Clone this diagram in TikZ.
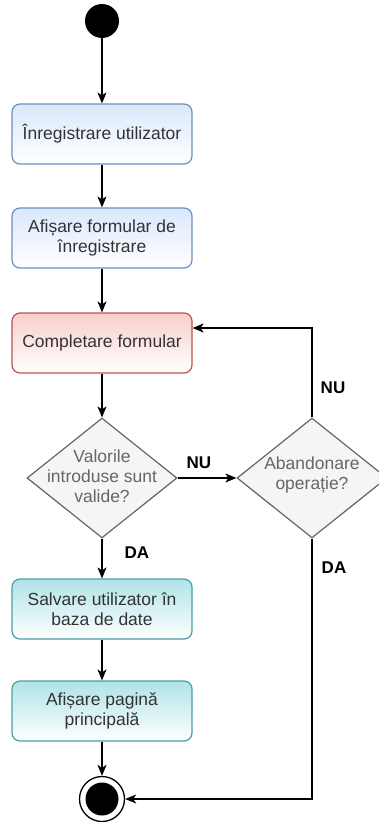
\documentclass[tikz,border=0pt]{standalone}
\usepackage{fontspec}
\setmainfont{Liberation Sans}
\usetikzlibrary{shapes.geometric,arrows.meta,calc}
\definecolor{blueFill}{HTML}{DAE8FC}
\definecolor{blueLine}{HTML}{6C8EBF}
\definecolor{redFill}{HTML}{F8CECC}
\definecolor{redLine}{HTML}{B85450}
\definecolor{tealFill}{HTML}{B0E3E6}
\definecolor{tealLine}{HTML}{4A9FA5}
\definecolor{grayFill}{HTML}{F5F5F5}
\definecolor{grayLine}{HTML}{666666}
\definecolor{boxText}{HTML}{333333}
\definecolor{decText}{HTML}{666666}
\tikzset{
  action/.style={rounded corners=8pt, minimum width=180pt, minimum height=60pt,
    line width=1.2pt, align=center, text=boxText, inner sep=2pt,
    font=\fontsize{17.5}{20}\selectfont},
  bluebox/.style={action, draw=blueLine, top color=blueFill, bottom color=white},
  redbox/.style={action, draw=redLine, top color=redFill, bottom color=white},
  tealbox/.style={action, draw=tealLine, top color=tealFill, bottom color=white},
  decision/.style={diamond, draw=grayLine, fill=grayFill, line width=1.2pt,
    minimum width=150pt, minimum height=120pt, inner sep=0pt},
  dtext/.style={align=center, text=decText, font=\fontsize{17.5}{20}\selectfont},
  flow/.style={line width=1.3pt, -{Stealth[length=11pt,width=9pt,inset=3pt]}},
  tag/.style={font=\bfseries\fontsize{17}{20}\selectfont, text=black},
}
\begin{document}
\begin{tikzpicture}[x=1pt,y=-1pt]
\useasboundingbox (0,0) rectangle (378,822);

% start and end markers
\node[circle, fill=black, minimum size=34pt, inner sep=0pt] (start) at (102,21) {};
\node[circle, draw=black, fill=white, line width=1.3pt, minimum size=45pt, inner sep=0pt] (stop) at (102,799) {};
\node[circle, fill=black, minimum size=33pt, inner sep=0pt] (stopdot) at (102,799) {};

% actions
\node[bluebox] (reg) at (102,134) {Înregistrare utilizator};
\node[bluebox] (form) at (102,238) {Afișare formular de\\înregistrare};
\node[redbox] (fill) at (102,343) {Completare formular};
\node[tealbox] (save) at (102,609) {Salvare utilizator în\\baza de date};
\node[tealbox] (home) at (102,711) {Afișare pagină\\principală};

% decisions
\node[decision] (valid) at (102,478) {};
\node[dtext] (validtxt) at (102,476) {Valorile\\introduse sunt\\valide?};
\node[decision] (abort) at (312,478) {};
\node[dtext] (aborttxt) at (312,475) {Abandonare\\operație?};

% flow
\draw[flow] (start) -- (reg);
\draw[flow] (reg) -- (form);
\draw[flow] (form) -- (fill);
\draw[flow] (fill) -- (valid);
\draw[flow] (valid) -- (save);
\draw[flow] (save) -- (home);
\draw[flow] (home) -- (stop);
\draw[flow] (valid.east) -- (abort.west);
\draw[flow] (abort.north) |- ($(fill.east)+(0,-15)$);
\draw[flow] (abort.south) |- (stop.east);

% branch labels
\node[tag] (nu1) at (199,463) {NU};
\node[tag] (nu2) at (333,388) {NU};
\node[tag] (da1) at (137,553) {DA};
\node[tag] (da2) at (334,568) {DA};
\end{tikzpicture}
\end{document}
